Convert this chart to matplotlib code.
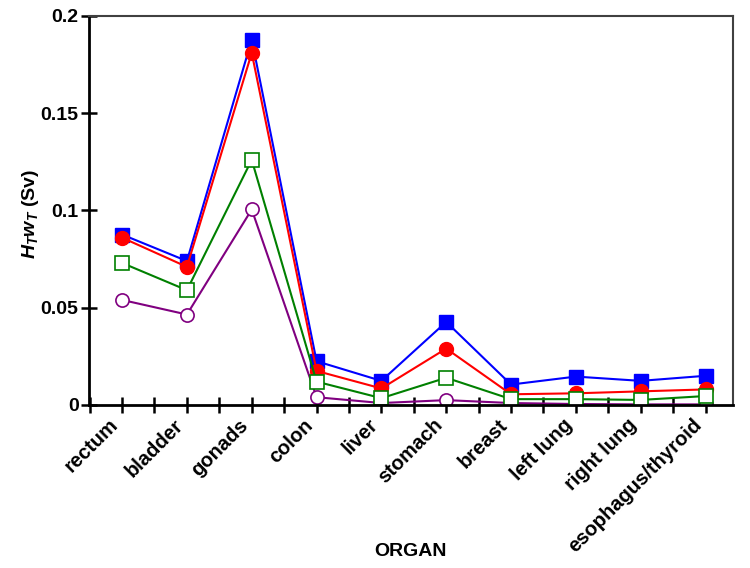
import numpy as np
from matplotlib import pyplot as plt

plt.rcParams['font.family'] = 'Liberation Sans'
plt.rcParams['font.weight'] = 'bold'
plt.rcParams['mathtext.fontset'] = 'custom'
plt.rcParams['mathtext.it'] = 'Liberation Sans:italic:bold'
plt.rcParams['mathtext.rm'] = 'Liberation Sans:bold'

organs = ["rectum", "bladder", "gonads", "colon", "liver", "stomach",
          "breast", "left lung", "right lung", "esophagus/thyroid"]

blue_sq = [0.0876, 0.074, 0.1878, 0.0225, 0.0124, 0.0427, 0.0105, 0.0146, 0.0124, 0.0150]
red_ci = [0.086, 0.071, 0.181, 0.0175, 0.0085, 0.0290, 0.0055, 0.0060, 0.0070, 0.0080]
green_sq = [0.073, 0.059, 0.126, 0.0120, 0.0035, 0.0140, 0.0030, 0.0030, 0.0026, 0.0046]
purple_ci = [0.054, 0.0465, 0.1005, 0.0040, 0.0010, 0.0025, 0.0010, 0.0005, 0.0003, 0.0003]

x = np.arange(len(organs))

fig = plt.figure(figsize=(7.5, 5.68), dpi=100)
ax = fig.add_axes([0.1187, 0.287, 0.977 - 0.1187, 0.972 - 0.287])

ax.plot(x, blue_sq, color="blue", lw=1.5, marker="s", ms=9.5, mfc="blue", mec="blue")
ax.plot(x, red_ci, color="red", lw=1.5, marker="o", ms=10, mfc="red", mec="red")
ax.plot(x, purple_ci, color="purple", lw=1.5, marker="o", ms=9.5, mfc="white", mec="purple", mew=1.2)
ax.plot(x, green_sq, color="green", lw=1.5, marker="s", ms=9.5, mfc="white", mec="green", mew=1.2)

ax.set_xlim(-0.51, 9.42)
ax.set_ylim(0, 0.2)
ax.set_yticks([0, 0.05, 0.1, 0.15, 0.2])
ax.set_yticklabels(["0", "0.05", "0.1", "0.15", "0.2"], fontsize=14, fontweight="bold")
ax.set_xticks(x)
ax.set_xticks(np.arange(-0.5, 9.5, 1), minor=True)
ax.set_xticklabels(organs, rotation=45, ha="right", fontsize=14.5, fontweight="bold")

ax.tick_params(axis="both", which="both", direction="inout", length=11, width=1.8,
               top=False, right=False, pad=4)
ax.tick_params(axis="x", pad=2)
ax.tick_params(axis="y", pad=2)

for s in ["left", "bottom"]:
    ax.spines[s].set_linewidth(2)
    ax.spines[s].set_color("black")
for s in ["top", "right"]:
    ax.spines[s].set_linewidth(1.5)
    ax.spines[s].set_color("#404040")

ax.set_xlabel("ORGAN", fontsize=14, fontweight="bold")
ax.set_ylabel(r"$H_T w_T$ (Sv)", fontsize=14, fontweight="bold")
ax.xaxis.set_label_coords(0.5, -0.355)
ax.yaxis.set_label_coords(-0.075, 0.49)

plt.savefig("out.png", dpi=100)
